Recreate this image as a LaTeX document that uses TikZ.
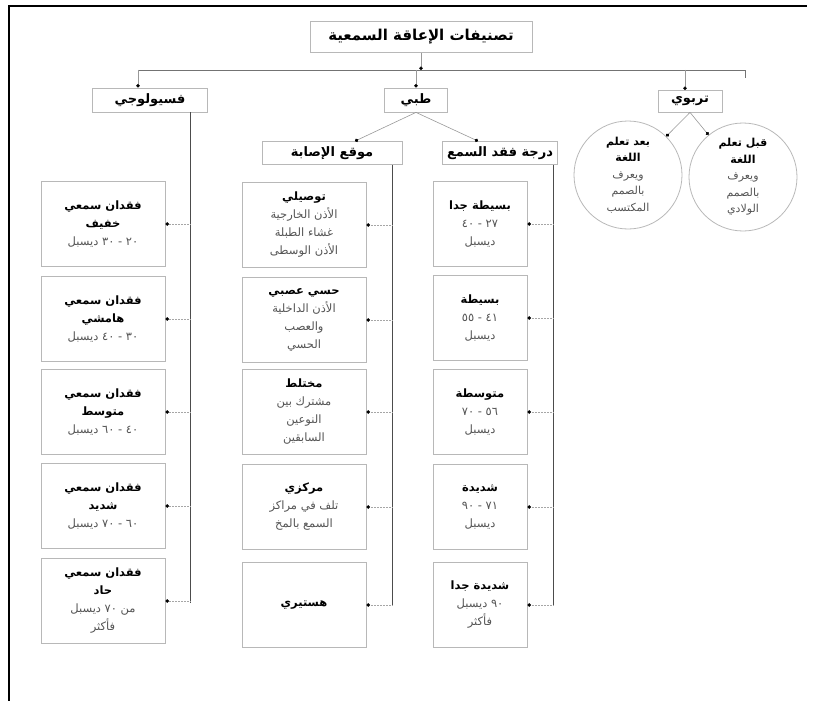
\documentclass[tikz,border=0pt]{standalone}
\usepackage{fontspec}
\newfontfamily\arabicfont[Script=Arabic]{DejaVu Sans}
\TeXXeTstate=1
\usetikzlibrary{arrows.meta}

\definecolor{boxline}{gray}{0.72}
\definecolor{inkgray}{gray}{0.33}
\newcommand\ar[1]{\beginR #1\endR}
\newcommand\hd[1]{{\bfseries\color{black}\beginR #1\endR}}

\tikzset{
  box/.style={draw=boxline, line width=0.8pt, align=center, inner sep=2pt,
    text=inkgray, font=\arabicfont\fontsize{11.5}{18}\selectfont},
  head/.style={box, text=black, font=\arabicfont\bfseries\fontsize{13}{15}\selectfont},
  rowbox/.style={box, minimum height=85},
  trunk/.style={draw=black!70, line width=0.9pt},
  branch/.style={draw=black!40, line width=0.6pt, -{Circle[length=3.5pt,color=black]}},
  twig/.style={draw=black!35, densely dotted, line width=0.5pt, -{Circle[length=3.5pt,color=black]}},
}

\begin{document}
\begin{tikzpicture}[x=1pt,y=-1pt]
  \useasboundingbox (0,0) rectangle (817,701);
  \draw[line width=1.6pt] (9,701) -- (9,6) -- (807,6);

  \node[head, minimum width=222, minimum height=31,
    font=\arabicfont\bfseries\fontsize{15}{17}\selectfont] (tasnif) at (421,37) {\hd{تصنيفات الإعاقة السمعية}};
  \node[head, minimum width=115, minimum height=24] (fisyo) at (150,100) {\hd{فسيولوجي}};
  \node[head, minimum width=63, minimum height=24] (tibbi) at (416,100) {\hd{طبي}};
  \node[head, minimum width=64, minimum height=22] (tarbawi) at (690,101) {\hd{تربوي}};
  \node[head, minimum width=140, minimum height=23] (mawqi) at (332,153) {\hd{موقع الإصابة}};
  \node[head, minimum width=115, minimum height=23] (daraja) at (500,153) {\hd{درجة فقد السمع}};

  % tarbawi
  \node[box, circle, inner sep=0pt, minimum size=108, font=\arabicfont\fontsize{11}{16.5}\selectfont] (baad) at (628,175)
    {\hd{بعد تعلم}\\\hd{اللغة}\\\ar{ويعرف}\\\ar{بالصمم}\\\ar{المكتسب}};
  \node[box, circle, inner sep=0pt, minimum size=108, font=\arabicfont\fontsize{11}{16.5}\selectfont] (qabl) at (743,177)
    {\hd{قبل تعلم}\\\hd{اللغة}\\\ar{ويعرف}\\\ar{بالصمم}\\\ar{الولادي}};

  % fisyolojy
  \node[rowbox, minimum width=124] (fs1) at (103,224) {\hd{فقدان سمعي}\\\hd{خفيف}\\\ar{٢٠ - ٣٠ ديسبل}};
  \node[rowbox, minimum width=124] (fs2) at (103,319) {\hd{فقدان سمعي}\\\hd{هامشي}\\\ar{٣٠ - ٤٠ ديسبل}};
  \node[rowbox, minimum width=124] (fs3) at (103,412) {\hd{فقدان سمعي}\\\hd{متوسط}\\\ar{٤٠ - ٦٠ ديسبل}};
  \node[rowbox, minimum width=124] (fs4) at (103,506) {\hd{فقدان سمعي}\\\hd{شديد}\\\ar{٦٠ - ٧٠ ديسبل}};
  \node[rowbox, minimum width=124] (fs5) at (103,601) {\hd{فقدان سمعي}\\\hd{حاد}\\\ar{من ٧٠ ديسبل}\\\ar{فأكثر}};

  % mawqi al-isaba
  \node[rowbox, minimum width=124] (mw1) at (304,225) {\hd{توصيلي}\\\ar{الأذن الخارجية}\\\ar{غشاء الطبلة}\\\ar{الأذن الوسطى}};
  \node[rowbox, minimum width=124] (mw2) at (304,320) {\hd{حسي عصبي}\\\ar{الأذن الداخلية}\\\ar{والعصب}\\\ar{الحسي}};
  \node[rowbox, minimum width=124] (mw3) at (304,412) {\hd{مختلط}\\\ar{مشترك بين}\\\ar{النوعين}\\\ar{السابقين}};
  \node[rowbox, minimum width=124] (mw4) at (304,507) {\hd{مركزي}\\\ar{تلف في مراكز}\\\ar{السمع بالمخ}};
  \node[rowbox, minimum width=124] (mw5) at (304,605) {\hd{هستيري}};

  % darajat faqd as-sam'
  \node[rowbox, minimum width=94] (dr1) at (480,224) {\hd{بسيطة جدا}\\\ar{٢٧ - ٤٠}\\\ar{ديسبل}};
  \node[rowbox, minimum width=94] (dr2) at (480,318) {\hd{بسيطة}\\\ar{٤١ - ٥٥}\\\ar{ديسبل}};
  \node[rowbox, minimum width=94] (dr3) at (480,412) {\hd{متوسطة}\\\ar{٥٦ - ٧٠}\\\ar{ديسبل}};
  \node[rowbox, minimum width=94] (dr4) at (480,507) {\hd{شديدة}\\\ar{٧١ - ٩٠}\\\ar{ديسبل}};
  \node[rowbox, minimum width=94] (dr5) at (480,605) {\hd{شديدة جدا}\\\ar{٩٠ ديسبل}\\\ar{فأكثر}};

  % main bar
  \coordinate (bar-w) at (138,70);
  \coordinate (bar-m) at (421,70);
  \coordinate (bar-e) at (745,70);
  \draw[trunk, draw=black!55] (bar-w) -- (bar-e) -- ++(0,8);
  \draw[branch] (tasnif.south) -- (bar-m);
  \draw[branch] (bar-w) -- (bar-w |- fisyo.north);
  \draw[branch] (tibbi.north |- bar-m) -- (tibbi.north);
  \draw[branch] (685,70) -- (685,90);

  \draw[branch] (tibbi.south) -- ([xshift=23]mawqi.north);
  \draw[branch] (tibbi.south) -- ([xshift=-22]daraja.north);
  \draw[branch] (tarbawi.south) -- (baad);
  \draw[branch] (tarbawi.south) -- (qabl);

  % trunks and twigs
  \coordinate (fs-end) at (190,603);
  \coordinate (mw-end) at (392,605);
  \coordinate (dr-end) at (553,605);
  \draw[trunk] (fisyo.south -| fs-end) -- (fs-end);
  \draw[trunk] (mawqi.south -| mw-end) -- (mw-end);
  \draw[trunk] (daraja.south -| dr-end) -- (dr-end);
  \foreach \i in {1,...,5} {
    \draw[twig] (fs-end |- fs\i) -- (fs\i.east);
    \draw[twig] (mw-end |- mw\i) -- (mw\i.east);
    \draw[twig] (dr-end |- dr\i) -- (dr\i.east);
  }
\end{tikzpicture}
\end{document}
